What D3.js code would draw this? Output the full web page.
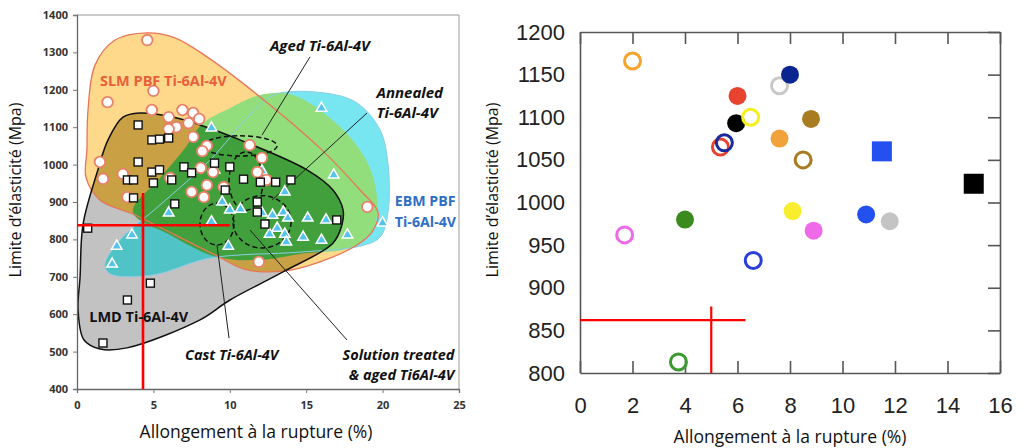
<!DOCTYPE html>
<html>
<head>
<meta charset="utf-8">
<script src="https://d3js.org/d3.v7.min.js"></script>
<style>
  body { margin:0; background:#fff; }
  svg { display:block; }
</style>
</head>
<body>
<script>
// ---- left chart : property envelopes (elongation %, yield MPa) ----
var slmElong = [4.6,2.0,5.0,4.9,6.0,6.9,7.6,8.0,7.3,6.5,6.0,7.6,8.5,8.2,11.3,12.1,1.5,1.7,3.0,3.3,6.1,8.1,8.9,8.5,9.6,7.5,8.3,11.8,12.4,19.0,11.9];
var slmYield = [1333,1167,1197,1146,1127,1146,1138,1122,1111,1100,1095,1074,1050,1036,1052,1018,1007,962,975,913,964,991,980,945,940,927,913,980,959,887,740];

var lmdElong = [4.0,4.9,5.4,6.0,4.0,3.3,3.7,4.9,5.4,5.0,6.2,7.0,7.5,3.7,6.4,9.0,10.0,9.7,10.9,12.0,13.0,14.0,11.8,11.8,12.3,17.0,0.7,4.8,3.3,1.7];
var lmdYield = [1106,1066,1068,1071,1007,959,959,980,986,951,959,994,978,911,895,1004,994,932,961,953,953,959,900,873,841,852,830,683,638,523];

var ebmElong = [8.8,16.0,9.0,12.1,16.8,13.6,9.5,10.0,10.7,6.0,8.8,12.1,12.8,13.5,13.8,15.1,16.3,13.1,12.6,13.6,13.7,14.8,16.0,17.7,20.0,9.9,3.6,2.6,2.3];
var ebmYield = [1098,1151,986,983,972,927,900,879,881,871,847,871,865,873,857,857,852,830,814,814,793,806,798,812,844,782,812,782,734];

var slmEnvelope = [[4.58,1352],[6.41,1339],[8.51,1288],[11.98,1181],[15.9,1044],[18.52,932],[19.7,873],[19.31,820],[18.32,785],[15.9,740],[13.48,715],[11.0,720],[9.16,756],[6.41,812],[3.66,868],[1.51,905],[0.59,965],[0.65,1040],[0.72,1146],[1.18,1266],[2.49,1333]];
var lmdEnvelope = [[1.31,978],[2.03,1066],[3.01,1127],[4.12,1138],[6.28,1127],[8.05,1106],[10.67,1066],[15.05,986],[16.75,932],[17.41,879],[17.34,839],[16.75,790],[13.48,713],[10.01,638],[8.05,585],[3.27,510],[1.51,507],[0.46,531],[0.07,611],[0.2,699],[0.39,839]];
var ebmEnvelope = [[1.83,732],[2.81,798],[5.43,892],[8.7,1012],[11.32,1133],[12.83,1186],[16.1,1192],[18.32,1165],[19.83,1093],[20.35,1004],[20.35,871],[19.83,806],[18.52,782],[14.59,766],[8.7,750],[4.97,705],[2.16,708]];
var wroughtEnvelope = [[3.66,873],[5.43,964],[7.07,1044],[8.25,1111],[10.01,1151],[11.98,1186],[14.14,1186],[17.21,1101],[18.98,1007],[19.63,913],[19.37,825],[18.06,780],[14.59,761],[11.98,745],[9.16,753],[6.09,812]];

// heat-treatment zones: [centre elong, centre yield, half-width %, half-height MPa]
var zones = [[10.67,1050,2.42,27],[11.06,956,1.11,78],[9.16,841,1.11,56],[12.11,847,1.9,70]];
// leader lines: [from elong, from yield, to elong, to yield]
var leaders = [[15.25,1288,12.11,1079],[18.98,1138,12.76,905],[9.95,536,9.16,785],[17.67,531,11.32,825]];

var leftXTicks = [0,5,10,15,20,25];
var leftYTicks = [400,500,600,700,800,900,1000,1100,1200,1300,1400];
var leftTarget = {elong:4.32, yield:838, elongMax:10.0, yieldMax:924};

// ---- right chart ----
var rightElong = [2.0,7.6,8.0,6.0,5.95,6.5,8.8,7.6,5.35,5.5,8.5,11.5,15.0,4.0,8.1,10.9,11.8,8.9,1.7,6.6,3.75];
var rightYield = [1166,1137,1150,1125,1093,1100,1098,1075,1065,1070,1050,1060,1022,980,990,986,978,967,962,932,813];
var rightMarker = ["open","open","filled","filled","filled","open","filled","filled","open","open","open","square","square","filled","filled","filled","filled","filled","open","open","open"];
var rightXTicks = [0,2,4,6,8,10,12,14,16];
var rightYTicks = [800,850,900,950,1000,1050,1100,1150,1200];
var rightTarget = {elong:5.0, yield:862, elongMax:6.3, yieldMax:878};

var rightColors = ["#F5A32A","#C8C8C8","#0B2590","#E8432E","#000000","#F7EE1A","#A97C22","#F2A23A","#E8432E","#1B2A9C","#A97C22","#2450F0","#000000","#3A8A1E","#F8EE2E","#2450F0","#C4C4C4","#EE6AE8","#EE6AE8","#2A3FD8","#3A9A2E"];

var svg = d3.select("body").append("svg").attr("width", 1020).attr("height", 448);
var fmt = d3.format("d");

// ================= LEFT =================
var xL = d3.scaleLinear().domain([0,25]).range([77,459]);
var yL = d3.scaleLinear().domain([400,1400]).range([389,15]);
var envLine = d3.line().x(function(d){return xL(d[0]);}).y(function(d){return yL(d[1]);})
    .curve(d3.curveCatmullRomClosed.alpha(0.5));

var L = svg.append("g");
L.append("defs").append("clipPath").attr("id","lmdClip").append("path").attr("d", envLine(lmdEnvelope));

L.append("path").attr("d", envLine(slmEnvelope)).attr("fill","#FED98C");
L.append("path").attr("d", envLine(ebmEnvelope)).attr("fill","#78E6F0");
L.append("path").attr("d", envLine(wroughtEnvelope)).attr("fill","#92DD7C");
L.append("path").attr("d", envLine(lmdEnvelope)).attr("fill","#C2C2C2");
var inner = L.append("g").attr("clip-path","url(#lmdClip)");
inner.append("path").attr("d", envLine(slmEnvelope)).attr("fill","#C9A043");
inner.append("path").attr("d", envLine(ebmEnvelope)).attr("fill","#4FC3C6");
inner.append("path").attr("d", envLine(wroughtEnvelope)).attr("fill","#42A03C");

L.append("path").attr("d", envLine(ebmEnvelope)).attr("fill","none").attr("stroke","#8ACDE6").attr("stroke-width",1);
L.append("path").attr("d", envLine(slmEnvelope)).attr("fill","none").attr("stroke","#E77559").attr("stroke-width",1.3);
L.append("path").attr("d", envLine(lmdEnvelope)).attr("fill","none").attr("stroke","#111").attr("stroke-width",1.5);

L.selectAll("ellipse.zone").data(zones).enter().append("ellipse")
  .attr("cx", function(d){return xL(d[0]);}).attr("cy", function(d){return yL(d[1]);})
  .attr("rx", function(d){return xL(d[2]) - xL(0);}).attr("ry", function(d){return yL(400) - yL(400 + d[3]);})
  .attr("fill","none").attr("stroke","#111").attr("stroke-width",1.5).attr("stroke-dasharray","5,3");

L.selectAll("line.leader").data(leaders).enter().append("line")
  .attr("x1", function(d){return xL(d[0]);}).attr("y1", function(d){return yL(d[1]);})
  .attr("x2", function(d){return xL(d[2]);}).attr("y2", function(d){return yL(d[3]);})
  .attr("stroke","#222").attr("stroke-width",1);

var tri = d3.symbol().type(d3.symbolTriangle).size(48);
L.selectAll("path.ebm").data(d3.zip(ebmElong, ebmYield)).enter().append("path")
  .attr("d", tri).attr("transform", function(d){return "translate(" + xL(d[0]) + "," + yL(d[1]) + ")";})
  .attr("fill","#55C3EE").attr("stroke","#fff").attr("stroke-width",1.5);
L.selectAll("circle.slm").data(d3.zip(slmElong, slmYield)).enter().append("circle")
  .attr("cx", function(d){return xL(d[0]);}).attr("cy", function(d){return yL(d[1]);}).attr("r",5.3)
  .attr("fill","#fff").attr("stroke","#E8806A").attr("stroke-width",1.8);
L.selectAll("rect.lmd").data(d3.zip(lmdElong, lmdYield)).enter().append("rect")
  .attr("x", function(d){return xL(d[0]) - 4;}).attr("y", function(d){return yL(d[1]) - 4;})
  .attr("width",8).attr("height",8).attr("fill","#fff").attr("stroke","#111").attr("stroke-width",1.4);

// frame
L.append("line").attr("x1",xL(0)).attr("x2",xL(25)).attr("y1",yL(1400)).attr("y2",yL(1400)).attr("stroke","#9a9a9a");
L.append("line").attr("x1",xL(25)).attr("x2",xL(25)).attr("y1",yL(1400)).attr("y2",yL(400)).attr("stroke","#9a9a9a");

var lxAxis = L.append("g").attr("transform","translate(0," + yL(400) + ")")
  .call(d3.axisBottom(xL).tickValues(leftXTicks).tickFormat(fmt).tickSize(4).tickPadding(8));
var lyAxis = L.append("g").attr("transform","translate(" + xL(0) + ",0)")
  .call(d3.axisLeft(yL).tickValues(leftYTicks).tickFormat(fmt).tickSize(4).tickPadding(5));
[lxAxis, lyAxis].forEach(function(a){
  a.select(".domain").attr("stroke","#666").attr("stroke-width",1.3);
  a.selectAll(".tick line").attr("stroke","#777");
  a.selectAll("text").attr("font-family","'Open Sans', sans-serif").attr("font-weight","bold")
    .attr("font-size",11).attr("fill","#333");
});

// red target cross
L.append("line").attr("x1",xL(0)).attr("x2",xL(leftTarget.elongMax)).attr("y1",yL(leftTarget.yield)).attr("y2",yL(leftTarget.yield))
  .attr("stroke","#FF0000").attr("stroke-width",2.6);
L.append("line").attr("x1",xL(leftTarget.elong)).attr("x2",xL(leftTarget.elong)).attr("y1",yL(400)).attr("y2",yL(leftTarget.yieldMax))
  .attr("stroke","#FF0000").attr("stroke-width",2.6);

function label(g, txt, x, y, opt) {
  opt = opt || {};
  g.append("text").text(txt).attr("x", x).attr("y", y)
    .attr("font-family","'Open Sans', sans-serif").attr("font-size", opt.size || 14.5)
    .attr("font-weight", opt.weight || "bold").attr("font-style", opt.italic ? "italic" : "normal")
    .attr("text-anchor", opt.anchor || "start").attr("fill", opt.color || "#111");
}
label(L, "SLM PBF Ti-6Al-4V", xL(1.5), yL(1211), {color:"#E8603C"});
label(L, "Aged Ti-6Al-4V", xL(15.9), yL(1305), {italic:true, anchor:"middle", size:15});
label(L, "Annealed", xL(19.6), yL(1178), {italic:true, size:15});
label(L, "Ti-6Al-4V", xL(19.6), yL(1125), {italic:true, size:15});
label(L, "EBM PBF", xL(20.8), yL(889), {color:"#2F6FC4", size:14.2});
label(L, "Ti-6Al-4V", xL(20.8), yL(833), {color:"#2F6FC4", size:14.2});
label(L, "LMD Ti-6Al-4V", xL(0.8), yL(579));
label(L, "Cast Ti-6Al-4V", xL(7.07), yL(478), {italic:true, size:14.5});
label(L, "Solution treated", xL(24.7), yL(478), {italic:true, anchor:"end", size:14.5});
label(L, "& aged Ti6Al-4V", xL(24.7), yL(424), {italic:true, anchor:"end", size:14.5});

svg.append("text").text("Allongement à la rupture (%)").attr("x",256).attr("y",438)
  .attr("text-anchor","middle").attr("font-family","'Open Sans', sans-serif").attr("font-size",17.5).attr("fill","#111");
svg.append("text").text("Limite d’élasticité (Mpa)").attr("transform","translate(21,190) rotate(-90)")
  .attr("text-anchor","middle").attr("font-family","'Open Sans', sans-serif").attr("font-size",16).attr("fill","#111");

// ================= RIGHT =================
var xR = d3.scaleLinear().domain([0,16]).range([580,1000]);
var yR = d3.scaleLinear().domain([800,1200]).range([373,32]);
var R = svg.append("g");

var rb = R.append("g").attr("transform","translate(0," + yR(800) + ")")
  .call(d3.axisBottom(xR).tickValues(rightXTicks).tickFormat(fmt).tickSizeInner(-12).tickSizeOuter(0).tickPadding(24));
var rt = R.append("g").attr("transform","translate(0," + yR(1200) + ")")
  .call(d3.axisTop(xR).tickValues(rightXTicks).tickSizeInner(-12).tickSizeOuter(0).tickFormat(""));
var rl = R.append("g").attr("transform","translate(" + xR(0) + ",0)")
  .call(d3.axisLeft(yR).tickValues(rightYTicks).tickFormat(fmt).tickSizeInner(0).tickSizeOuter(0).tickPadding(15));
var rr = R.append("g").attr("transform","translate(" + xR(16) + ",0)")
  .call(d3.axisRight(yR).tickValues(rightYTicks).tickSizeInner(-12).tickSizeOuter(0).tickFormat(""));
[rb, rt, rl, rr].forEach(function(a){
  a.select(".domain").attr("stroke","#555").attr("stroke-width",1.6);
  a.selectAll(".tick line").attr("stroke","#555").attr("stroke-width",1.6);
  a.selectAll("text").attr("font-family","'Liberation Sans', Arial, sans-serif").attr("font-size",22).attr("fill","#222");
});

R.append("line").attr("x1",xR(0)).attr("x2",xR(rightTarget.elongMax)).attr("y1",yR(rightTarget.yield)).attr("y2",yR(rightTarget.yield))
  .attr("stroke","#FF0000").attr("stroke-width",2.2);
R.append("line").attr("x1",xR(rightTarget.elong)).attr("x2",xR(rightTarget.elong)).attr("y1",yR(800)).attr("y2",yR(rightTarget.yieldMax))
  .attr("stroke","#FF0000").attr("stroke-width",2.2);

var rpts = rightElong.map(function(e,i){ return {x:e, y:rightYield[i], m:rightMarker[i], c:rightColors[i]}; });
rpts.forEach(function(p){
  if (p.m === "square") {
    R.append("rect").attr("x", xR(p.x) - 10).attr("y", yR(p.y) - 10).attr("width",20).attr("height",20).attr("fill", p.c);
  } else if (p.m === "filled") {
    R.append("circle").attr("cx", xR(p.x)).attr("cy", yR(p.y)).attr("r",9).attr("fill", p.c);
  } else {
    R.append("circle").attr("cx", xR(p.x)).attr("cy", yR(p.y)).attr("r",8).attr("fill","none")
      .attr("stroke", p.c).attr("stroke-width",3);
  }
});

svg.append("text").text("Allongement à la rupture (%)").attr("x",790).attr("y",443)
  .attr("text-anchor","middle").attr("font-family","'Open Sans', sans-serif").attr("font-size",17.5).attr("fill","#111");
svg.append("text").text("Limite d’élasticité (Mpa)").attr("transform","translate(498,190) rotate(-90)")
  .attr("text-anchor","middle").attr("font-family","'Open Sans', sans-serif").attr("font-size",16).attr("fill","#111");
</script>
</body>
</html>
